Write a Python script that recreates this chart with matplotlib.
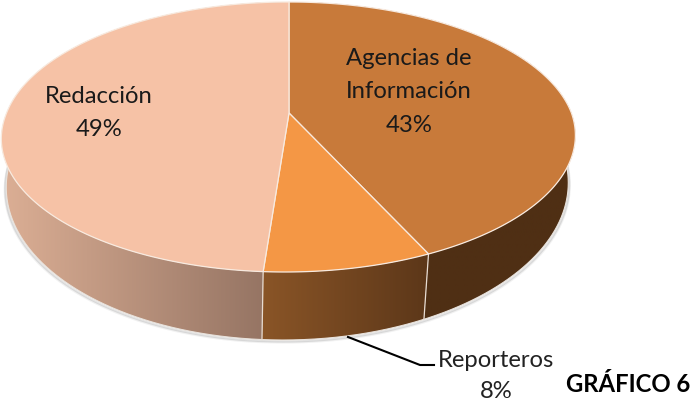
import numpy as np
import matplotlib
matplotlib.use("Agg")
import matplotlib.pyplot as plt
from matplotlib.patches import Polygon
from matplotlib.colors import LinearSegmentedColormap

categories = ["Agencias de\nInformación", "Reporteros", "Redacción"]
values = [43, 8, 49]
top_colors = ["#C87A3A", "#F49745", "#F6C2A6"]
side_grads = [("#4F2F14", "#4F2F14"), ("#8A5527", "#5C3719"), ("#DCAF95", "#8F6F5F")]

W, H = 692, 404
plt.rcParams["font.family"] = ["Lato", "DejaVu Sans"]
fig = plt.figure(figsize=(W / 100, H / 100), dpi=100)
ax = fig.add_axes([0, 0, 1, 1])
ax.set_xlim(0, W)
ax.set_ylim(H, 0)
ax.axis("off")

KA = 0.1778
SHEAR = 0.027


def rim_xy(pct, cx, cy, rx, ry):
    t = np.radians(np.asarray(pct, float) * 3.6)
    x, y = np.sin(t), np.cos(t)
    w = 1 + KA * y
    apex = KA * ry
    X = rx * np.sqrt(1 - KA ** 2) * x / w
    Y = (ry * y + apex) / w
    return cx + X + SHEAR * np.minimum(Y - apex, 0), cy - Y


def top_xy(pct):
    return rim_xy(pct, 289.0, 137.0, 287.0, 135.0)


def bot_xy(pct):
    return rim_xy(pct, 288.0, 185.0, 281.0, 155.0)


edges = np.concatenate([[0], np.cumsum(values)])

# soft shadow along the lower rim
rim = np.linspace(20, 88, 300)
bx, by = bot_xy(rim)
for off, alpha in [(2.5, 0.08), (1.5, 0.16)]:
    ax.plot(bx - 0.6 * off * (rim > 51) + 0.6 * off * (rim <= 51), by + off, color="#555555",
            alpha=alpha, lw=1.6, zorder=1, solid_capstyle="round")

# side walls
for i in range(len(values)):
    p = np.linspace(edges[i], edges[i + 1], 300)
    tx, ty = top_xy(p)
    ux, uy = bot_xy(p)
    poly_xy = np.vstack([np.c_[tx, ty], np.c_[ux, uy][::-1]])
    wall = Polygon(poly_xy, closed=True, facecolor="none", edgecolor="none", zorder=2)
    ax.add_patch(wall)
    x0, x1 = poly_xy[:, 0].min(), poly_xy[:, 0].max()
    y0, y1 = poly_xy[:, 1].min(), poly_xy[:, 1].max()
    cmap = LinearSegmentedColormap.from_list("g", side_grads[i])
    grad = np.linspace(0, 1, 256)[None, :]
    im = ax.imshow(grad, cmap=cmap, extent=[x0, x1, y1, y0], aspect="auto", zorder=2)
    im.set_clip_path(wall)
    ax.plot(ux, uy, color="#E8E2DC", lw=0.8, zorder=3)
ax.set_xlim(0, W)
ax.set_ylim(H, 0)

# wall seams
for pct in edges[1:-1]:
    tx, ty = top_xy(pct)
    ux, uy = bot_xy(pct)
    ax.plot([tx, ux], [ty, uy], color="#E8DCD2", lw=0.9, zorder=3)

# top face
apex_x, apex_y = 289.0, 113.0
for i in range(len(values)):
    p = np.linspace(edges[i], edges[i + 1], 300)
    tx, ty = top_xy(p)
    pts = np.vstack([[apex_x, apex_y], np.c_[tx, ty]])
    ax.add_patch(Polygon(pts, closed=True, facecolor=top_colors[i],
                         edgecolor="#F8EADF", lw=0.9, zorder=4))

# leader line
ax.plot([348, 420, 434], [337, 365, 365], color="black", lw=1.5, zorder=5)

fs = 17.2
c = "#1a1a1a"
ax.text(409, 92, categories[0] + f"\n{values[0]}%", ha="center", va="center",
        fontsize=fs, color=c, linespacing=1.72, zorder=6)
ax.text(99, 113, categories[2] + f"\n{values[2]}%", ha="center", va="center",
        fontsize=fs, color=c, linespacing=1.72, zorder=6)
ax.text(496, 376, categories[1] + f"\n{values[1]}%", ha="center", va="center",
        fontsize=fs, color="#222222", linespacing=1.58, zorder=6)
ax.text(690, 385, "GRÁFICO 6", ha="right", va="center", fontsize=17.2,
        fontweight="bold", color="black", zorder=6)

fig.savefig("out.png", dpi=100, facecolor="white")
